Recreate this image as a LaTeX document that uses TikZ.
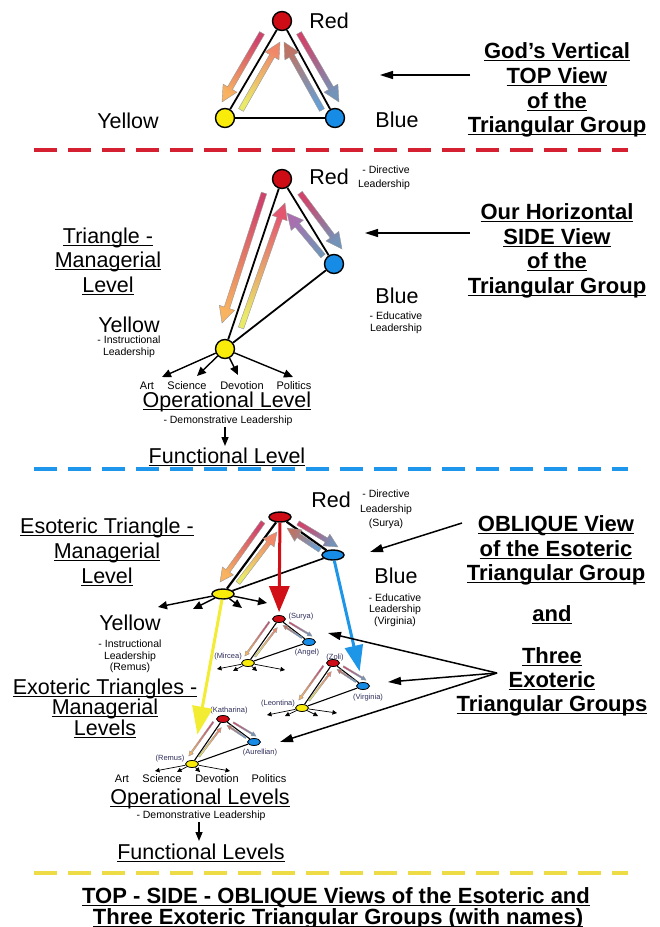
\documentclass[tikz,border=0pt]{standalone}
\usepackage{fontspec}
\setmainfont{Liberation Sans}
\usetikzlibrary{calc,arrows.meta,shapes.geometric}
\definecolor{nRed}{RGB}{205,12,22}
\definecolor{nBlue}{RGB}{22,140,230}
\definecolor{nYel}{RGB}{250,236,10}
\definecolor{dRed}{RGB}{212,32,48}
\definecolor{dBlue}{RGB}{30,150,235}
\definecolor{dYel}{RGB}{238,220,70}
\definecolor{gCr}{RGB}{208,68,108}
\definecolor{gOr}{RGB}{248,178,96}
\definecolor{gYe}{RGB}{234,234,105}
\definecolor{gSa}{RGB}{240,135,105}
\definecolor{gPk}{RGB}{228,85,112}
\definecolor{gBl}{RGB}{105,158,210}
\definecolor{gBr}{RGB}{190,115,100}
\definecolor{gPu}{RGB}{170,110,175}
\definecolor{gSt}{RGB}{115,148,185}
\definecolor{aRed}{RGB}{208,16,22}
\definecolor{aBlue}{RGB}{30,150,232}
\definecolor{aYel}{RGB}{242,236,50}
\definecolor{nmCol}{RGB}{45,45,90}
\newcommand{\ulx}[1]{\setbox0=\hbox{#1}\rlap{\rule[-2.8pt]{\wd0}{1.3pt}}\box0}
% gradient arrow: tail x,y ; tip x,y ; tail colour ; head colour ; size factor
\newcommand{\garr}[7]{%
  \pgfmathsetmacro\gang{atan2(-((#4)-(#2)),(#3)-(#1))+90}%
  \pgfmathsetlengthmacro\gw{2.8pt*#7}%
  \pgfmathsetlengthmacro\ghw{8pt*#7}%
  \pgfmathsetlengthmacro\ghl{16pt*#7}%
  \coordinate (gS) at (#1,#2);
  \coordinate (gE) at (#3,#4);
  \coordinate (gH) at ($(gE)!\ghl!(gS)$);
  \shade[top color=#5, bottom color=#6, shading angle=\gang, draw=black!40, line width=0.4pt]
    ($(gS)!\gw!90:(gE)$) -- ($(gH)!\gw!90:(gE)$) -- ($(gH)!\ghw!90:(gE)$) -- (gE)
    -- ($(gH)!\ghw!-90:(gE)$) -- ($(gH)!\gw!-90:(gE)$) -- ($(gS)!\gw!-90:(gE)$) -- cycle;
}
\newcommand{\bottomarrows}[1]{%
  \garr{263}{522}{220}{582}{gCr}{gOr}{#1}
  \garr{238}{583}{277}{532}{gYe}{gSa}{#1}
  \garr{320}{550}{287}{528}{gBl}{gBr}{#1}
  \garr{298}{523}{338}{547}{gCr}{gSt}{#1}
}
\newcommand{\smalltri}[2]{%
  \begin{scope}[shift={(#1,#2)},scale=0.57,shift={(-280,-517)}]
    \bottomarrows{0.5}
  \end{scope}
}
\begin{document}
\begin{tikzpicture}[x=1pt,y=-1pt,
  nd/.style={circle, draw, line width=1.4pt, minimum size=19pt, inner sep=0},
  ov/.style={ellipse, draw, line width=1.4pt, minimum width=22pt, minimum height=10pt, inner sep=0},
  sov/.style={ellipse, draw, line width=0.8pt, minimum width=13pt, minimum height=7pt, inner sep=0},
  edge/.style={line width=1.8pt},
  sedge/.style={line width=1.1pt},
  big/.style={font=\fontsize{21.5}{24}\selectfont, anchor=base, inner sep=0},
  bigb/.style={font=\bfseries\fontsize{22}{24}\selectfont, anchor=base, inner sep=0},
  sm/.style={font=\fontsize{10.5}{12}\selectfont, anchor=base, inner sep=0},
  cat/.style={font=\fontsize{11}{12}\selectfont, anchor=base, inner sep=0},
  nm/.style={font=\fontsize{7.5}{9}\selectfont, anchor=base, inner sep=0, text=nmCol},
  fan/.style={line width=1.4pt, -{Triangle[length=9pt,width=8pt]}},
  sfan/.style={line width=0.7pt, -{Triangle[length=4.5pt,width=4.5pt]}},
  pointer/.style={line width=1.5pt, -{Triangle[length=13pt,width=8pt]}},
  down/.style={line width=1.4pt, -{Triangle[length=9pt,width=7pt]}},
  divider/.style={line width=4pt, dash pattern=on 23pt off 11pt},
]
\useasboundingbox (0,0) rectangle (660,927);

% ================= TOP VIEW =================
\node[nd, fill=nRed] (R1) at (282,21) {};
\node[nd, fill=nYel] (Y1) at (225,118) {};
\node[nd, fill=nBlue] (B1) at (335,118) {};
\draw[edge] (R1) -- (Y1);
\draw[edge] (R1) -- (B1);
\draw[edge] (Y1) -- (B1);
\garr{262}{33}{222}{102}{gCr}{gOr}{1}
\garr{241}{110}{280}{42}{gYe}{gSa}{1}
\garr{322}{110}{284}{42}{gBl}{gBr}{1}
\garr{299}{33}{339}{102}{gCr}{gSt}{1}
\node[big] (tRed1) at (329,28) {Red};
\node[big] (tYel1) at (128,128) {Yellow};
\node[big] (tBlue1) at (397,127) {Blue};
\node[bigb] (g1) at (557,58) {\ulx{God’s Vertical}};
\node[bigb] (g2) at (557,83) {\ulx{TOP View}};
\node[bigb] (g3) at (557,108) {\ulx{of the}};
\node[bigb] (g4) at (557,132) {\ulx{Triangular Group}};
\coordinate (p1s) at (470,75);
\coordinate (p1e) at (380,75);
\draw[pointer] (p1s) -- (p1e);

\coordinate (d1a) at (34,150);
\coordinate (d1b) at (628,150);
\draw[divider, dRed] (d1a) -- (d1b);

% ================= SIDE VIEW =================
\node[nd, fill=nRed] (R2) at (282,179) {};
\node[nd, fill=nBlue] (B2) at (334,264) {};
\node[nd, fill=nYel] (Y2) at (225,349) {};
\draw[edge] (R2) -- (Y2);
\draw[edge] (R2) -- (B2);
\draw[edge] (B2) -- (Y2);
\garr{264}{193}{222}{323}{gCr}{gOr}{1}
\garr{241}{328}{285}{203}{gYe}{gPk}{1}
\garr{323}{256}{287}{213}{gSt}{gPu}{1}
\garr{300}{193}{342}{249}{gCr}{gSt}{1}
\node[big] (tRed2) at (329,184) {Red};
\node[sm] (dir2a) at (386,173) {- Directive};
\node[sm] (dir2b) at (384,187) {Leadership};
\node[big] (tBlue2) at (397,303) {Blue};
\node[sm] (edu2a) at (396,319) {- Educative};
\node[sm] (edu2b) at (396,331) {Leadership};
\node[big] (tri2a) at (108,243) {\ulx{Triangle -}};
\node[big] (tri2b) at (108,267) {\ulx{Managerial}};
\node[big] (tri2c) at (108,292) {\ulx{Level}};
\node[big] (tYel2) at (129,332) {Yellow};
\node[sm] (ins2a) at (129,343) {- Instructional};
\node[sm] (ins2b) at (129,355) {Leadership};
\coordinate (f2a) at (162,377);
\coordinate (f2b) at (197,376);
\coordinate (f2c) at (238,375);
\coordinate (f2d) at (293,377);
\draw[fan] (Y2) -- (f2a);
\draw[fan] (Y2) -- (f2b);
\draw[fan] (Y2) -- (f2c);
\draw[fan] (Y2) -- (f2d);
\node[cat] (art2) at (147,389) {Art};
\node[cat] (sci2) at (187,389) {Science};
\node[cat] (dev2) at (242,389) {Devotion};
\node[cat] (pol2) at (294,389) {Politics};
\node[big] (op2) at (227,407) {\ulx{Operational Level}};
\node[sm] (dem2) at (228,423) {- Demonstrative Leadership};
\node[big] (fn2) at (227,463) {\ulx{Functional Level}};
\coordinate (q2a) at (225,427);
\coordinate (q2b) at (225,446);
\draw[down] (q2a) -- (q2b);
\node[bigb] (h1) at (557,219) {\ulx{Our Horizontal}};
\node[bigb] (h2) at (557,244) {\ulx{SIDE View}};
\node[bigb] (h3) at (557,268) {\ulx{of the}};
\node[bigb] (h4) at (557,293) {\ulx{Triangular Group}};
\coordinate (p2s) at (470,233);
\coordinate (p2e) at (365,233);
\draw[pointer] (p2s) -- (p2e);

\coordinate (d2a) at (34,469);
\coordinate (d2b) at (628,469);
\draw[divider, dBlue] (d2a) -- (d2b);

% ================= OBLIQUE VIEW =================
% small triangles nodes
\node[sov, fill=nRed] (sR) at (279,619) {};
\node[sov, fill=nBlue] (sB) at (309,642) {};
\node[sov, fill=nYel] (sY) at (248,663) {};
\node[sov, fill=nRed] (zR) at (333,663) {};
\node[sov, fill=nBlue] (zB) at (363,686) {};
\node[sov, fill=nYel] (zY) at (302,708) {};
\node[sov, fill=nRed] (kR) at (223,719) {};
\node[sov, fill=nBlue] (kB) at (254,742) {};
\node[sov, fill=nYel] (kY) at (192,764) {};
\foreach \r/\b/\y in {sR/sB/sY, zR/zB/zY, kR/kB/kY} {
  \draw[sedge] (\r) -- (\y);
  \draw[sedge] (\r) -- (\b);
  \draw[sedge] (\b) -- (\y);
}
\smalltri{279}{619}
\smalltri{333}{663}
\smalltri{223}{719}
% small fans
\coordinate (fs1) at (217,669); \coordinate (fs2) at (233,671);
\coordinate (fs3) at (257,671); \coordinate (fs4) at (285,670);
\coordinate (fz1) at (267,715); \coordinate (fz2) at (285,716);
\coordinate (fz3) at (318,716); \coordinate (fz4) at (337,713);
\coordinate (fk1) at (155,771); \coordinate (fk2) at (177,772);
\coordinate (fk3) at (200,772); \coordinate (fk4) at (230,771);
\foreach \c in {fs1,fs2,fs3,fs4} \draw[sfan] (sY) -- (\c);
\foreach \c in {fz1,fz2,fz3,fz4} \draw[sfan] (zY) -- (\c);
\foreach \c in {fk1,fk2,fk3,fk4} \draw[sfan] (kY) -- (\c);
\node[nm] (nSurya) at (301,618) {(Surya)};
\node[nm] (nAngel) at (307,654) {(Angel)};
\node[nm] (nMircea) at (228,658) {(Mircea)};
\node[nm] (nZoli) at (335,659) {(Zoli)};
\node[nm] (nVirg) at (368,699) {(Virginia)};
\node[nm] (nLeon) at (278,705) {(Leontina)};
\node[nm] (nKath) at (229,712) {(Katharina)};
\node[nm] (nAur) at (260,754) {(Aurellian)};
\node[nm] (nRem) at (170,760) {(Remus)};

% big oblique triangle
\node[ov, fill=nRed] (R3) at (280,517) {};
\node[ov, fill=nBlue] (B3) at (333,555) {};
\node[ov, fill=nYel] (Y3) at (223,594) {};
\draw[line width=2.2pt] (R3) -- (Y3);
\draw[line width=2.2pt] (R3) -- (B3);
\draw[line width=1.6pt] (B3) -- (Y3);
\bottomarrows{0.85}
\coordinate (f3a) at (158,607);
\coordinate (f3b) at (193,609);
\coordinate (f3c) at (242,608);
\coordinate (f3d) at (267,603);
\draw[fan] (Y3) -- (f3a);
\draw[fan] (Y3) -- (f3b);
\draw[fan] (Y3) -- (f3c);
\draw[fan] (Y3) -- (f3d);
\draw[line width=3pt, aYel, -{Triangle[length=28pt,width=20pt]}, shorten >=26pt] (Y3) -- (kY);
\draw[line width=3pt, aRed, -{Triangle[length=26pt,width=20pt]}, shorten >=3pt] (R3) -- (sR);
\draw[line width=3pt, aBlue, -{Triangle[length=26pt,width=18pt]}, shorten >=11pt] (B3) -- (zB);

\node[big] (tRed3) at (331,507) {Red};
\node[sm] (dir3a) at (386,497.5) {- Directive};
\node[sm] (dir3b) at (386,512) {Leadership};
\node[sm] (dir3c) at (386,526) {(Surya)};
\node[big] (tBlue3) at (396,583) {Blue};
\node[sm] (edu3a) at (395,601) {- Educative};
\node[sm] (edu3b) at (395,612.5) {Leadership};
\node[sm] (edu3c) at (395,624.5) {(Virginia)};
\node[big] (es1) at (107,533) {\ulx{Esoteric Triangle -}};
\node[big] (es2) at (107,558) {\ulx{Managerial}};
\node[big] (es3) at (107,583) {\ulx{Level}};
\node[big] (tYel3) at (130,630) {Yellow};
\node[sm] (ins3a) at (130,647) {- Instructional};
\node[sm] (ins3b) at (130,659) {Leadership};
\node[sm] (ins3c) at (130,670.5) {(Remus)};
\node[big] (ex1) at (105,694) {\ulx{Exoteric Triangles -}};
\node[big] (ex2) at (105,714) {\ulx{Managerial}};
\node[big] (ex3) at (105,735) {\ulx{Levels}};
\node[cat] (art3) at (122,782) {Art};
\node[cat] (sci3) at (162,782) {Science};
\node[cat] (dev3) at (217,782) {Devotion};
\node[cat] (pol3) at (269,782) {Politics};
\node[big] (op3) at (200,804) {\ulx{Operational Levels}};
\node[sm] (dem3) at (201,818) {- Demonstrative Leadership};
\node[big] (fn3) at (201,859) {\ulx{Functional Levels}};
\coordinate (q3a) at (199,822);
\coordinate (q3b) at (199,841);
\draw[down] (q3a) -- (q3b);

\node[bigb] (ob1) at (556,531) {\ulx{OBLIQUE View}};
\node[bigb] (ob2) at (556,556) {\ulx{of the Esoteric}};
\node[bigb] (ob3) at (556,580) {\ulx{Triangular Group}};
\node[bigb] (and) at (552,621) {\ulx{and}};
\node[bigb] (th1) at (552,663) {\ulx{Three}};
\node[bigb] (th2) at (552,687) {\ulx{Exoteric}};
\node[bigb] (th3) at (552,711) {\ulx{Triangular Groups}};
\coordinate (p3s) at (462,523);
\coordinate (p3e) at (370,552);
\draw[pointer] (p3s) -- (p3e);
\coordinate (apex) at (497,673);
\coordinate (pt1) at (328,633);
\coordinate (pt2) at (388,682);
\coordinate (pt3) at (280,742);
\draw[pointer] (apex) -- (pt1);
\draw[pointer] (apex) -- (pt2);
\draw[pointer] (apex) -- (pt3);

\coordinate (d3a) at (34,873);
\coordinate (d3b) at (628,873);
\draw[divider, dYel] (d3a) -- (d3b);

\node[bigb] (ti1) at (336,903) {\ulx{TOP - SIDE - OBLIQUE Views of the Esoteric and}};
\node[bigb] (ti2) at (338,924) {\ulx{Three Exoteric Triangular Groups (with names)}};
\end{tikzpicture}
\end{document}
